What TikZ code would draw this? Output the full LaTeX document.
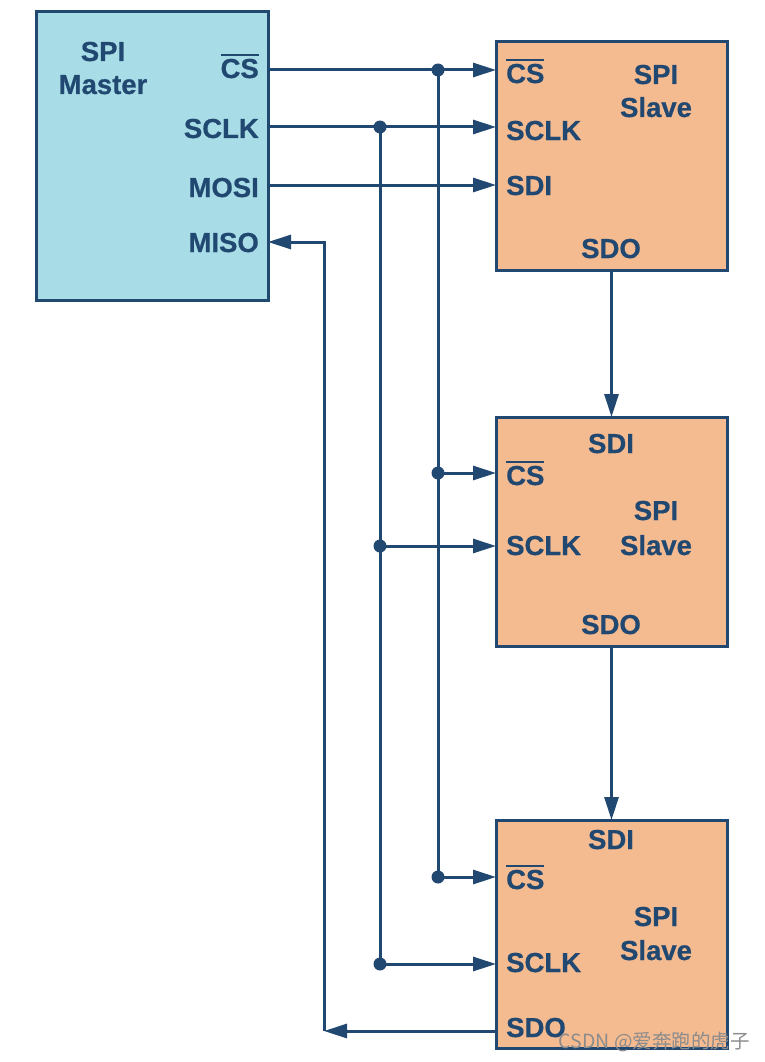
\documentclass[tikz,border=0pt]{standalone}
\usepackage{fontspec}
\setmainfont{Liberation Sans}
\newfontfamily\lblfont[FakeBold=0.6]{Liberation Sans Bold}
\newfontfamily\cjkfont{Noto Sans CJK SC}
\usetikzlibrary{arrows.meta}
\definecolor{linec}{RGB}{33,72,112}
\definecolor{masterc}{RGB}{168,220,230}
\definecolor{slavec}{RGB}{244,186,144}
\tikzset{
  wire/.style={draw=linec, line width=3pt},
  arr/.style={wire, -{Triangle[length=23pt,width=14pt]}},
  jdot/.style={circle, fill=linec, inner sep=0pt, minimum size=13pt},
  masterbox/.style={draw=linec, line width=3pt, fill=masterc, inner sep=0pt, outer sep=0pt, minimum width=232pt, minimum height=288pt},
  slavebox/.style={draw=linec, line width=3pt, fill=slavec, inner sep=0pt, outer sep=0pt, minimum width=231pt, minimum height=228pt},
  lbl/.style={text=linec, font=\lblfont\fontsize{27.5}{32}\selectfont, inner sep=0pt},
}
\newcommand{\ncs}{{\setbox0\hbox{CS}\vbox{\hrule width\wd0 height 2pt\kern 3pt\box0}}}
\begin{document}
\begin{tikzpicture}[x=1pt,y=-1pt]
\useasboundingbox (0,0) rectangle (765,1062);
% boxes
\node[masterbox] (m) at (152,156) {};
\node[slavebox] (s1) at (611.5,156) {};
\node[slavebox, minimum height=229pt] (s2) at (611.5,531.5) {};
\node[slavebox] (s3) at (611.5,934) {};
% master labels
\node[lbl, anchor=base] (mspi) at (103,61) {SPI};
\node[lbl, anchor=base] (mmas) at (103,94) {Master};
\node[lbl, anchor=base east] (mcs) at (259,78) {\ncs};
\node[lbl, anchor=base east] (msclk) at (259,138) {SCLK};
\node[lbl, anchor=base east] (mmosi) at (259,197) {MOSI};
\node[lbl, anchor=base east] (mmiso) at (259,252) {MISO};
% slave 1 labels
\node[lbl, anchor=base west] (s1cs) at (506,83) {\ncs};
\node[lbl, anchor=base west] (s1sclk) at (506,140) {SCLK};
\node[lbl, anchor=base west] (s1sdi) at (506,195) {SDI};
\node[lbl, anchor=base] (s1spi) at (656,84) {SPI};
\node[lbl, anchor=base] (s1sl) at (656,117) {Slave};
\node[lbl, anchor=base] (s1sdo) at (611,258) {SDO};
% slave 2 labels
\node[lbl, anchor=base] (s2sdi) at (611,453) {SDI};
\node[lbl, anchor=base west] (s2cs) at (506,485) {\ncs};
\node[lbl, anchor=base west] (s2sclk) at (506,555) {SCLK};
\node[lbl, anchor=base] (s2spi) at (656,520) {SPI};
\node[lbl, anchor=base] (s2sl) at (656,555) {Slave};
\node[lbl, anchor=base] (s2sdo) at (611,634) {SDO};
% slave 3 labels
\node[lbl, anchor=base] (s3sdi) at (611,849) {SDI};
\node[lbl, anchor=base west] (s3cs) at (506,889) {\ncs};
\node[lbl, anchor=base] (s3spi) at (656,926) {SPI};
\node[lbl, anchor=base] (s3sl) at (656,960) {Slave};
\node[lbl, anchor=base west] (s3sclk) at (506,972) {SCLK};
\node[lbl, anchor=base west] (s3sdo) at (506,1037) {SDO};
% junctions
\node[jdot] (jc1) at (438,70) {};
\node[jdot] (jc2) at (438,473) {};
\node[jdot] (jc3) at (438,877) {};
\node[jdot] (jk1) at (380,127) {};
\node[jdot] (jk2) at (380,546) {};
\node[jdot] (jk3) at (380,964) {};
\coordinate (jmosi) at (300,185);
\coordinate (cturn) at (324,1031);
% buses
\draw[wire] (jc1.center) -- (jc3.center);
\draw[wire] (jk1.center) -- (jk3.center);
% CS
\draw[wire] (m.east |- jc1) -- (jc1.center);
\draw[arr] (jc1.center) -- (s1.west |- jc1);
\draw[arr] (jc2.center) -- (s2.west |- jc2);
\draw[arr] (jc3.center) -- (s3.west |- jc3);
% SCLK
\draw[wire] (m.east |- jk1) -- (jk1.center);
\draw[arr] (jk1.center) -- (s1.west |- jk1);
\draw[arr] (jk2.center) -- (s2.west |- jk2);
\draw[arr] (jk3.center) -- (s3.west |- jk3);
% MOSI
\draw[arr] (m.east |- jmosi) -- (s1.west |- jmosi);
% daisy chain
\draw[arr] (s1.south) -- (s2.north);
\draw[arr] (s2.south) -- (s3.north);
% MISO return
\draw[arr] (s3.west |- cturn) -- (cturn);
\draw[arr] (cturn) -- (cturn |- 0,242) -- (m.east |- 0,242);
% watermark
\node[anchor=base east, text=black!45, font=\cjkfont\fontsize{19.5}{22}\selectfont, inner sep=0pt] (wm) at (750,1048) {CSDN @爱奔跑的虎子};
\end{tikzpicture}
\end{document}
